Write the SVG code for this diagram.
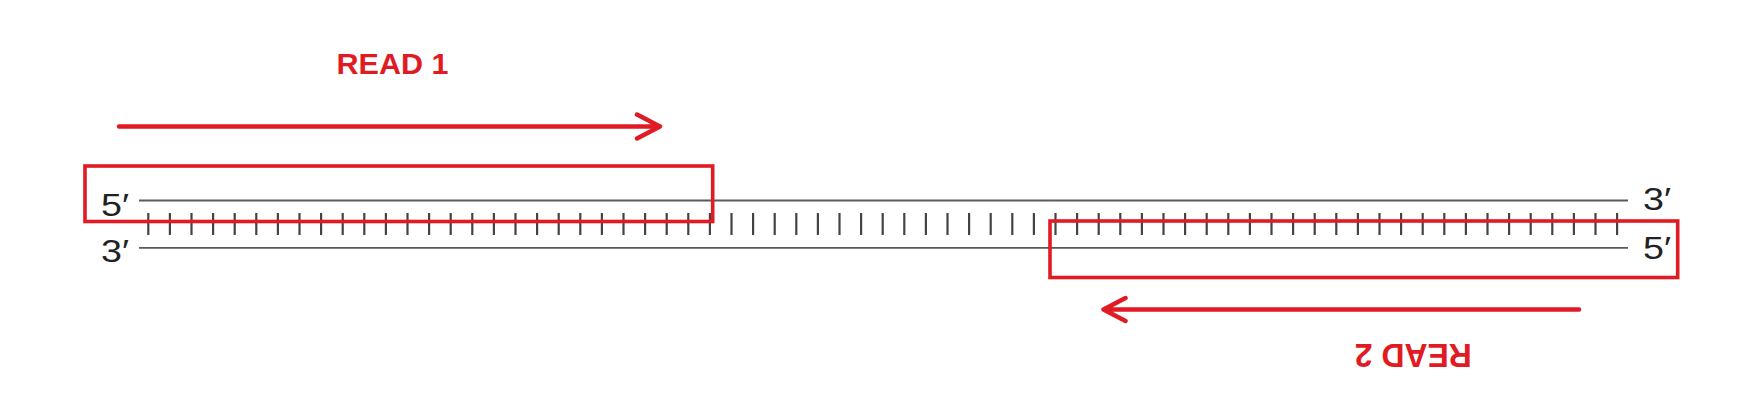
<svg xmlns="http://www.w3.org/2000/svg" width="1750" height="410" viewBox="0 0 1750 410">
<style>
.bg{fill:#ffffff}
.strand{stroke:#5a5a5a;stroke-width:1.8;fill:none}
.tick{stroke:#444444;stroke-width:2.2;fill:none}
.box{fill:none;stroke:#e01b24;stroke-width:3.6}
.arrow{fill:none;stroke:#e01b24;stroke-width:4.5;stroke-linecap:round;stroke-linejoin:round}
.end{font-family:"Liberation Sans",Arial,sans-serif;font-size:32px;fill:#222222}
.read{font-family:"Liberation Sans",Arial,sans-serif;font-weight:bold;fill:#e01b24}
</style>
<rect class="bg" x="0" y="0" width="1750" height="410"/>
<g id="dna">
<line class="strand" x1="139" y1="200.5" x2="1628" y2="200.5"/>
<line class="strand" x1="139" y1="247.8" x2="1628" y2="247.8"/>
<path class="tick" d="M148.3 213V235M169.9 213V235M191.5 213V235M213.1 213V235M234.7 213V235M256.3 213V235M277.9 213V235M299.5 213V235M321.1 213V235M342.7 213V235M364.3 213V235M385.9 213V235M407.5 213V235M429.1 213V235M450.7 213V235M472.3 213V235M493.9 213V235M515.5 213V235M537.1 213V235M558.7 213V235M580.3 213V235M601.9 213V235M623.5 213V235M645.1 213V235M666.7 213V235M688.3 213V235M709.9 213V235M731.5 213V235M753.1 213V235M774.7 213V235M796.3 213V235M817.9 213V235M839.5 213V235M861.1 213V235M882.7 213V235M904.3 213V235M925.9 213V235M947.5 213V235M969.1 213V235M990.7 213V235M1012.3 213V235M1033.9 213V235M1055.5 213V235M1077.1 213V235M1098.7 213V235M1120.3 213V235M1141.9 213V235M1163.5 213V235M1185.1 213V235M1206.7 213V235M1228.3 213V235M1249.9 213V235M1271.5 213V235M1293.1 213V235M1314.7 213V235M1336.3 213V235M1357.9 213V235M1379.5 213V235M1401.1 213V235M1422.7 213V235M1444.3 213V235M1465.9 213V235M1487.5 213V235M1509.1 213V235M1530.7 213V235M1552.3 213V235M1573.9 213V235M1595.5 213V235M1617.1 213V235"/>
<text class="end" x="101" y="215.5" textLength="28" lengthAdjust="spacingAndGlyphs">5′</text>
<text class="end" x="101" y="262" textLength="28" lengthAdjust="spacingAndGlyphs">3′</text>
<text class="end" x="1643" y="209.8" textLength="28" lengthAdjust="spacingAndGlyphs">3′</text>
<text class="end" x="1643" y="258.5" textLength="28" lengthAdjust="spacingAndGlyphs">5′</text>
</g>
<g id="read1">
<rect class="box" x="85" y="166" width="627.7" height="55.5"/>
<text class="read" x="336.5" y="74.3" font-size="29" textLength="112" lengthAdjust="spacingAndGlyphs">READ 1</text>
</g>
<g id="read2">
<rect class="box" x="1050" y="221" width="627.7" height="56.5"/>
<text class="read" x="1413.3" y="368.3" font-size="33" text-anchor="middle" textLength="117" lengthAdjust="spacingAndGlyphs" transform="rotate(180 1413.3 356.3)">READ 2</text>
</g>
<g id="connectors">
<path class="arrow" d="M119 126.5H659M637 114.5L660 126.5L637 138.5"/>
<path class="arrow" d="M1579 309.5H1104.5M1125.5 298L1103.5 309.5L1125.5 321"/>
</g>
</svg>
